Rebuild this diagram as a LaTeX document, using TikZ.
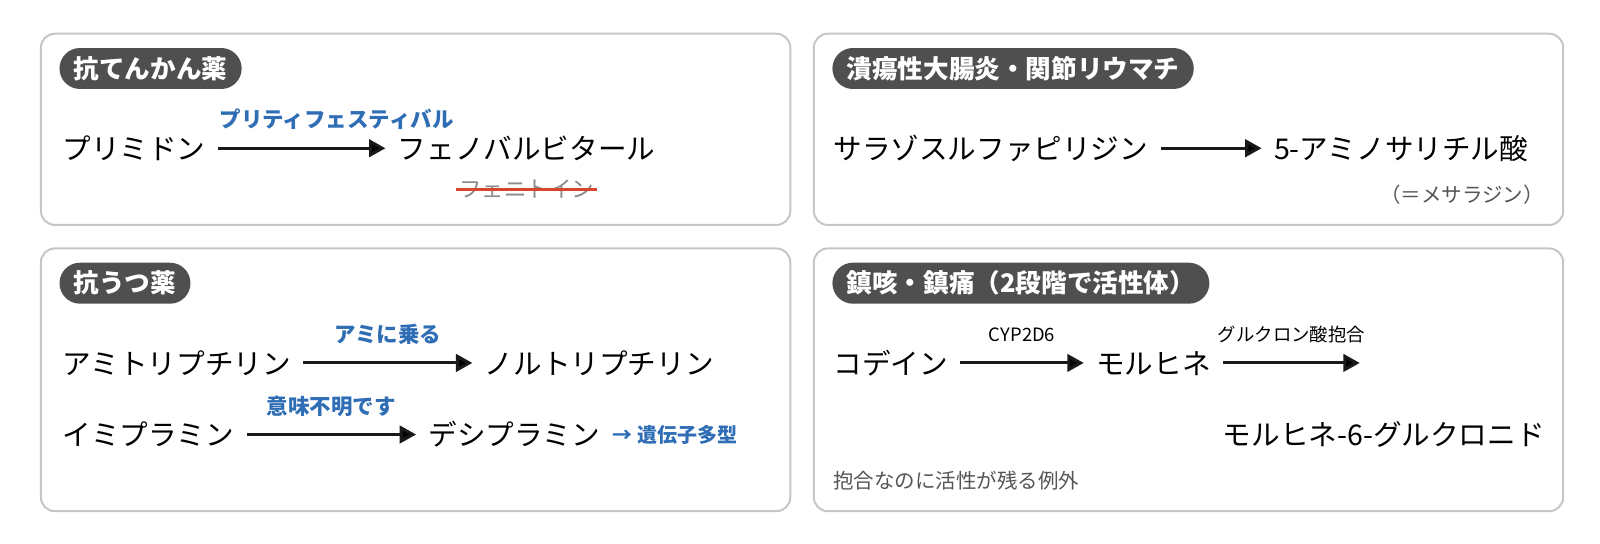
\documentclass[tikz,border=0pt]{standalone}
\usepackage{fontspec}
\setmainfont{Noto Sans CJK JP}
\usetikzlibrary{arrows.meta,positioning}

\definecolor{panelline}{HTML}{C6C6C6}
\definecolor{tagfill}{HTML}{4F4F4F}
\definecolor{mnemoblue}{HTML}{2F6DB5}
\definecolor{notegray}{HTML}{555555}
\definecolor{struckgray}{HTML}{8C8C8C}
\definecolor{strikered}{HTML}{D9432F}

\tikzset{
  panel/.style={draw=panelline, line width=2pt, rounded corners=14pt},
  tag/.style={fill=tagfill, text=white, rounded corners=20.5pt, anchor=west,
    font=\fontsize{25.6}{30}\selectfont\bfseries, inner xsep=14.3pt, inner ysep=0pt,
    minimum height=41pt, text height=22.5pt, text depth=3pt},
  drug/.style={anchor=west, font=\fontsize{28.6}{34}\selectfont,
    inner xsep=12.3pt, inner ysep=0pt, text height=25.5pt, text depth=3pt},
  mnemo/.style={font=\fontsize{21.5}{25}\selectfont\bfseries, text=mnemoblue,
    inner sep=0pt, text height=19pt, text depth=2.5pt},
  enzyme/.style={font=\fontsize{18.4}{22}\selectfont, inner sep=0pt,
    text height=16.4pt, text depth=2pt},
  aside/.style={font=\fontsize{20.5}{24}\selectfont, text=notegray, inner sep=0pt,
    text height=18pt, text depth=2.5pt},
  struck/.style={font=\fontsize{22.5}{26}\selectfont, text=struckgray,
    inner xsep=3pt, inner ysep=0pt, text height=19.5pt, text depth=3pt},
  strike/.style={draw=strikered, line width=3pt},
  conv/.style={-{Triangle[length=16.4pt,width=17.4pt]}, line width=3.1pt, draw=black!90},
}

\begin{document}
\begin{tikzpicture}[x=1.0225pt,y=-1.0225pt]
\useasboundingbox (0,0) rectangle (1565,532);

% panels
\draw[panel] (40,33)  rectangle (773,220);
\draw[panel] (796,33) rectangle (1529,220);
\draw[panel] (40,243) rectangle (773,500);
\draw[panel] (796,243) rectangle (1529,500);

\node[tag] (tagEpi)  at (58,67)   {抗てんかん薬};
\node[tag] (tagUc)   at (814,67)  {潰瘍性大腸炎・関節リウマチ};
\node[tag] (tagDep)  at (58,277)  {抗うつ薬};
\node[tag] (tagCod)  at (814,277) {鎮咳・鎮痛（2段階で活性体）};

% antiepileptic
\node[drug] (prim)  at (49,145)  {プリミドン};
\node[drug] (pheno) at (377,145) {フェノバルビタール};
\node[struck] (pht) at (515,185) {フェニトイン};
\draw[strike] (pht.west) -- (pht.east);

% ulcerative colitis / RA
\node[drug] (salazo) at (803,145)  {サラゾスルファピリジン};
\node[drug] (asa)    at (1234,145) {5-アミノサリチル酸};
\node[aside, anchor=east] (mesa) at (1510,190) {（＝メサラジン）};

% antidepressants
\node[drug] (ami)  at (49,355)  {アミトリプチリン};
\node[drug] (nor)  at (462,355) {ノルトリプチリン};
\node[drug] (imi)  at (49,425)  {イミプラミン};
\node[drug] (desi) at (407,425) {デシプラミン};
\node[mnemo, font=\fontsize{20}{24}\selectfont\bfseries, anchor=west,
  right=0pt of desi] (poly) {→ 遺伝子多型};

% codeine
\node[drug] (cod)   at (803,355)  {コデイン};
\node[drug] (mor)   at (1060,355) {モルヒネ};
\coordinate (glucEnd) at (1330,355);
\node[drug] (m6g)   at (1184,425) {モルヒネ-6-グルクロニド};
\node[aside, anchor=west] (except) at (815,470) {抱合なのに活性が残る例外};

\path[conv]
  (prim)   edge node[mnemo, pos=0, anchor=west, yshift=28.6pt] {プリティフェスティバル} (pheno)
  (salazo) edge (asa)
  (ami)    edge node[mnemo, midway, yshift=28.6pt] {アミに乗る} (nor)
  (imi)    edge node[mnemo, midway, yshift=28.6pt] {意味不明です} (desi)
  (cod)    edge node[enzyme, midway, yshift=28.6pt] {CYP2D6} (mor)
  (mor)    edge node[enzyme, midway, yshift=28.6pt] {グルクロン酸抱合} (glucEnd);
\end{tikzpicture}
\end{document}
